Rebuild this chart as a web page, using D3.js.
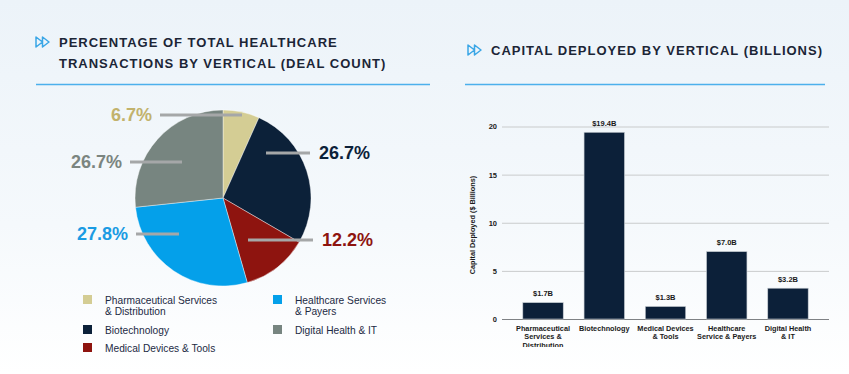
<!DOCTYPE html>
<html>
<head>
<meta charset="utf-8">
<script src="https://cdn.jsdelivr.net/npm/d3@7"></script>
<style>
  body { margin: 0; padding: 0; }
  svg { display: block; font-family: Arial, 'Liberation Sans', sans-serif; }
</style>
</head>
<body>
<svg id="canvas"></svg>
<script>
// pie data (deal count share)
let pieLabels = ['Pharmaceutical Services & Distribution', 'Biotechnology', 'Medical Devices & Tools', 'Healthcare Services & Payers', 'Digital Health & IT']
let pieValues = [6.7, 26.7, 12.2, 27.8, 26.7]
let pieColors = ['#d4cd94', '#0c2139', '#8e140f', '#04a0ea', '#778580']
let pieTextColors = ['#c2b26c', '#0c2139', '#8e140f', '#1a9be3', '#7b8580']

// legend layout (two columns, like the source)
let legendRows = [
    {i: 0, lines: ['Pharmaceutical Services', '& Distribution']},
    {i: 3, lines: ['Healthcare Services', '& Payers']},
    {i: 1, lines: ['Biotechnology']},
    {i: 4, lines: ['Digital Health & IT']},
    {i: 2, lines: ['Medical Devices & Tools']}
]

// bar data (capital deployed, billions)
let barCategories = [
    ['Pharmaceutical', 'Services &', 'Distribution'],
    ['Biotechnology'],
    ['Medical Devices', '& Tools'],
    ['Healthcare', 'Service & Payers'],
    ['Digital Health', '& IT']
]
let barValues = [1.7, 19.4, 1.3, 7.0, 3.2]
let barTicks = [0, 5, 10, 15, 20]

let width = 849
let height = 374

let svg = d3.select('#canvas')
    .attr('width', width)
    .attr('height', height)

// background
let defs = svg.append('defs')
let grad = defs.append('linearGradient')
    .attr('id', 'bg')
    .attr('x1', 0).attr('y1', 0)
    .attr('x2', 0).attr('y2', 1)
grad.append('stop').attr('offset', '0%').attr('stop-color', '#ecf3f9')
grad.append('stop').attr('offset', '60%').attr('stop-color', '#f5f9fc')
grad.append('stop').attr('offset', '100%').attr('stop-color', '#ffffff')
svg.append('rect')
    .attr('width', width)
    .attr('height', height)
    .attr('fill', 'url(#bg)')

defs.append('clipPath')
    .attr('id', 'xclip')
    .append('rect')
    .attr('x', 480).attr('y', 320)
    .attr('width', 360).attr('height', 27)

// section headers
let drawHeader = (x, y, lines, lineX1, lineX2, lineY) => {
    let g = svg.append('g')
    // double arrow icon
    g.append('path')
        .attr('d', `M${x},${y - 10} L${x + 6.5},${y - 5} L${x},${y} Z M${x + 6.5},${y - 10} L${x + 13},${y - 5} L${x + 6.5},${y} Z`)
        .attr('fill', 'none')
        .attr('stroke', '#3aa6e6')
        .attr('stroke-width', 1.5)
        .attr('stroke-linejoin', 'round')
    lines.forEach((t, k) => {
        g.append('text')
            .attr('x', x + 23)
            .attr('y', y + k * 21)
            .attr('font-size', 13)
            .attr('font-weight', 'bold')
            .attr('letter-spacing', 1.0)
            .attr('fill', '#1b2536')
            .text(t)
    })
    g.append('line')
        .attr('x1', lineX1).attr('x2', lineX2)
        .attr('y1', lineY).attr('y2', lineY)
        .attr('stroke', '#4cb0ec')
        .attr('stroke-width', 1.3)
}

drawHeader(36, 47, ['PERCENTAGE OF TOTAL HEALTHCARE', 'TRANSACTIONS BY VERTICAL (DEAL COUNT)'], 36, 430, 84.5)
drawHeader(468, 55, ['CAPITAL DEPLOYED BY VERTICAL (BILLIONS)'], 465, 825, 84.5)

// pie
let cx = 223
let cy = 198
let radius = 88

let pie = d3.pie().sort(null).value((d) => d)
let arcs = pie(pieValues)
let arc = d3.arc().innerRadius(0).outerRadius(radius)

let pieG = svg.append('g').attr('transform', `translate(${cx},${cy})`)
pieG.selectAll('path')
    .data(arcs)
    .enter()
    .append('path')
    .attr('d', arc)
    .attr('fill', (d, i) => pieColors[i])
    .attr('stroke', '#ffffff')
    .attr('stroke-width', 0.4)

// leader lines + labels, placed around the pie by hand-ish offsets
let labelSpots = [
    {lineFrom: -63, lineTo: 19, ly: -83, side: 'left'},
    {lineFrom: 43, lineTo: 87, ly: -45, side: 'right'},
    {lineFrom: 25, lineTo: 90, ly: 42, side: 'right'},
    {lineFrom: -87, lineTo: -44, ly: 36, side: 'left'},
    {lineFrom: -93, lineTo: -41, ly: -36, side: 'left'}
]

pieG.selectAll('line.leader')
    .data(arcs)
    .enter()
    .append('line')
    .attr('class', 'leader')
    .attr('x1', (d, i) => labelSpots[i].lineFrom)
    .attr('x2', (d, i) => labelSpots[i].lineTo)
    .attr('y1', (d, i) => labelSpots[i].ly)
    .attr('y2', (d, i) => labelSpots[i].ly)
    .attr('stroke', '#a5a7a8')
    .attr('stroke-width', 3)

pieG.selectAll('text.pct')
    .data(arcs)
    .enter()
    .append('text')
    .attr('class', 'pct')
    .attr('x', (d, i) => {
        let s = labelSpots[i]
        return s.side === 'left' ? Math.min(s.lineFrom, s.lineTo) - 8 : Math.max(s.lineFrom, s.lineTo) + 9
    })
    .attr('y', (d, i) => labelSpots[i].ly)
    .attr('dy', '0.36em')
    .attr('text-anchor', (d, i) => labelSpots[i].side === 'left' ? 'end' : 'start')
    .attr('font-size', 18)
    .attr('font-weight', 'bold')
    .attr('fill', (d, i) => pieTextColors[i])
    .text((d) => d.data.toFixed(1) + '%')

// legend
let legend = svg.append('g')
let legendY = [300, 300, 330, 330, 348]
legendRows.forEach((row, k) => {
    let colX = k % 2 === 0 ? 83 : 273
    let y = legendY[k]
    legend.append('rect')
        .attr('x', colX)
        .attr('y', y - 5)
        .attr('width', 9)
        .attr('height', 9)
        .attr('fill', pieColors[row.i])
    row.lines.forEach((t, j) => {
        legend.append('text')
            .attr('x', colX + 22)
            .attr('y', y + j * 11.5)
            .attr('dy', '0.35em')
            .attr('font-size', 10.2)
            .attr('fill', '#1c2a44')
            .text(t)
    })
})

// bar chart
let xScale = d3.scaleBand()
    .domain(d3.range(barValues.length))
    .range([502, 829])
    .paddingInner(0.34)
    .paddingOuter(0.34)

let yScale = d3.scaleLinear()
    .domain([0, 20])
    .range([319, 126.5])

let barG = svg.append('g')

let yAxis = d3.axisLeft(yScale)
    .tickValues(barTicks)
    .tickSize(-327)
    .tickPadding(5)

barG.append('g')
    .attr('transform', 'translate(502,0)')
    .call(yAxis)
    .call((g) => g.select('.domain').remove())
    .call((g) => g.selectAll('.tick line')
        .attr('stroke', (d) => d === 0 ? '#7f8285' : '#c9cbcc')
        .attr('stroke-width', (d) => d === 0 ? 1.2 : 1))
    .call((g) => g.selectAll('.tick text')
        .attr('font-size', 7.5)
        .attr('font-weight', 'bold')
        .attr('font-family', 'Arial, Liberation Sans, sans-serif')
        .attr('fill', '#1a1a1a'))

barG.selectAll('rect.bar')
    .data(barValues)
    .enter()
    .append('rect')
    .attr('class', 'bar')
    .attr('x', (d, i) => xScale(i))
    .attr('y', (d) => yScale(d))
    .attr('width', xScale.bandwidth())
    .attr('height', (d) => yScale(0) - yScale(d))
    .attr('fill', '#0c2039')
    .attr('stroke', '#c7cdd3')
    .attr('stroke-width', 0.6)

barG.selectAll('text.val')
    .data(barValues)
    .enter()
    .append('text')
    .attr('class', 'val')
    .attr('x', (d, i) => xScale(i) + xScale.bandwidth() / 2)
    .attr('y', (d) => yScale(d) - 9)
    .attr('dy', '0.35em')
    .attr('text-anchor', 'middle')
    .attr('font-size', 7.5)
    .attr('font-weight', 'bold')
    .attr('fill', '#1a1a1a')
    .text((d) => '$' + d.toFixed(1) + 'B')

let xLabels = barG.append('g').attr('clip-path', 'url(#xclip)')
barCategories.forEach((lines, i) => {
    lines.forEach((t, j) => {
        xLabels.append('text')
            .attr('x', xScale(i) + xScale.bandwidth() / 2)
            .attr('y', 328 + j * 8.7)
            .attr('dy', '0.35em')
            .attr('text-anchor', 'middle')
            .attr('font-size', 7.3)
            .attr('font-weight', 'bold')
            .attr('fill', '#1a1a1a')
            .text(t)
    })
})

barG.append('text')
    .attr('transform', 'translate(472,225) rotate(-90)')
    .attr('text-anchor', 'middle')
    .attr('dy', '0.35em')
    .attr('font-size', 7.3)
    .attr('font-weight', 'bold')
    .attr('fill', '#1a1a1a')
    .text('Capital Deployed ($ Billions)')
</script>
</body>
</html>
